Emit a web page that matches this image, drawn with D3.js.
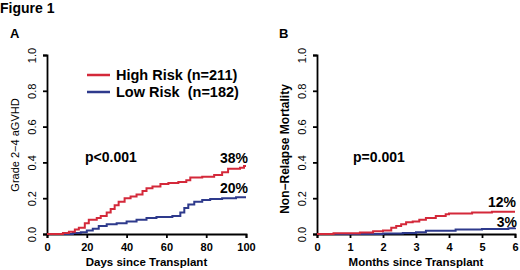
<!DOCTYPE html>
<html>
<head>
<meta charset="utf-8">
<script src="https://cdn.jsdelivr.net/npm/d3@7"></script>
<style>
  body { margin: 0; background: #fff; }
  svg { font-family: "Liberation Sans", Arial, sans-serif; }
</style>
</head>
<body>
<div id="container"></div>
<script>
/* DATA */
const aHighDays = [0, 8, 11, 14, 16, 19, 21, 25, 27, 30, 32, 34, 36, 39, 42, 45, 48, 50, 53, 57, 61, 66, 70, 72, 78, 84, 88, 91, 97, 99, 100]
const aHighVals = [0, 0.005, 0.012, 0.025, 0.035, 0.06, 0.08, 0.09, 0.1, 0.12, 0.14, 0.16, 0.18, 0.2, 0.21, 0.22, 0.24, 0.255, 0.265, 0.28, 0.285, 0.29, 0.3, 0.315, 0.32, 0.33, 0.345, 0.365, 0.37, 0.38, 0.38]
const aLowDays = [0, 13, 17, 20, 23, 26, 30, 35, 40, 45, 50, 55, 63, 67, 69, 71, 74, 78, 82, 88, 95, 100]
const aLowVals = [0, 0.005, 0.01, 0.02, 0.03, 0.045, 0.055, 0.06, 0.07, 0.08, 0.09, 0.095, 0.1, 0.12, 0.145, 0.165, 0.18, 0.19, 0.195, 0.2, 0.205, 0.205]

const bHighMonths = [0, 0.5, 1.3, 1.7, 2.0, 2.25, 2.4, 2.55, 2.7, 2.9, 3.1, 3.3, 3.6, 3.9, 4.0, 4.7, 5.3, 6]
const bHighVals = [0, 0.004, 0.008, 0.015, 0.02, 0.035, 0.045, 0.055, 0.065, 0.07, 0.08, 0.09, 0.1, 0.11, 0.115, 0.12, 0.125, 0.125]
const bLowMonths = [0, 2.0, 2.6, 3.0, 3.3, 4.2, 5.0, 5.8, 6]
const bLowVals = [0, 0.003, 0.006, 0.01, 0.018, 0.025, 0.028, 0.032, 0.035]

const yTicks = [0, 0.2, 0.4, 0.6, 0.8, 1.0]
const aXTicks = [0, 20, 40, 60, 80, 100]
const bXTicks = [0, 1, 2, 3, 4, 5, 6]
const legendLabels = ["High Risk (n=211)", "Low Risk  (n=182)"]

const RED = "#d4293a", BLUE = "#2e3a8c"

const width = 520, height = 270

const svg = d3.select("#container").append("svg")
  .attr("width", width).attr("height", height)

svg.append("text").text("Figure 1")
  .attr("x", 0).attr("y", 13)
  .style("font-weight", "bold").style("font-size", "14px")

// draws one panel
function panel(opts) {
  const x = d3.scaleLinear().domain(opts.xDomain).range([opts.left, opts.right])
  const y = d3.scaleLinear().domain([0, 1]).range([234, 55])

  const xAxis = svg.append("g")
    .attr("transform", `translate(0, ${y(0)})`)
    .call(d3.axisBottom(x).tickValues(opts.xTicks).tickSize(4).tickFormat(d3.format("d")))
  xAxis.selectAll("text").style("font-size", "11px").style("font-weight", "bold").attr("dy", "0.9em")

  const yAxis = svg.append("g")
    .attr("transform", `translate(${x(opts.xDomain[0])}, 0)`)
    .call(d3.axisLeft(y).tickValues(yTicks).tickSize(4).tickFormat(d3.format(".1f")))
  // rotated tick labels, like the original
  yAxis.selectAll("text")
    .attr("transform", "translate(-11, 0) rotate(-90)")
    .attr("x", 0).attr("y", 0).attr("dy", "0").attr("text-anchor", "middle")
    .style("font-size", "11px")

  svg.selectAll(".domain, .tick line").attr("stroke", "#000").attr("stroke-width", 1.8)

  svg.append("text").text(opts.xTitle)
    .attr("x", (opts.left + opts.right) / 2).attr("y", 266)
    .attr("text-anchor", "middle")
    .style("font-size", "11.5px").style("font-weight", "bold")

  svg.append("text").text(opts.yTitle)
    .attr("transform", `translate(${opts.yTitleX}, ${opts.yTitleY}) rotate(-90)`)
    .attr("text-anchor", "middle")
    .style("font-size", opts.yBold ? "12px" : "11px").style("font-weight", opts.yBold ? "bold" : "normal")

  svg.append("text").text(opts.letter)
    .attr("x", opts.letterX).attr("y", 38)
    .style("font-weight", "bold").style("font-size", "13px")

  const line = d3.line().curve(d3.curveStepAfter)
    .x(d => x(d[0])).y(d => y(d[1]))

  opts.series.forEach(s => {
    svg.append("path")
      .datum(d3.zip(s.xs, s.ys))
      .attr("fill", "none")
      .attr("stroke", s.color)
      .attr("stroke-width", 2)
      .attr("d", line)
  })
}

panel({
  xDomain: [0, 100], left: 47, right: 246, xTicks: aXTicks,
  xTitle: "Days since Transplant", yTitle: "Grade 2\u22124 aGVHD",
  yTitleX: 19, yTitleY: 145, letter: "A", letterX: 10,
  series: [
    { xs: aLowDays, ys: aLowVals, color: BLUE },
    { xs: aHighDays, ys: aHighVals, color: RED }
  ]
})

panel({
  xDomain: [0, 6], left: 317, right: 515, xTicks: bXTicks,
  xTitle: "Months since Transplant", yTitle: "Non\u2212Relapse Mortality",
  yTitleX: 289, yTitleY: 149, letter: "B", letterX: 279, yBold: true,
  series: [
    { xs: bLowMonths, ys: bLowVals, color: BLUE },
    { xs: bHighMonths, ys: bHighVals, color: RED }
  ]
})

// legend
const legendColors = [RED, BLUE]
legendLabels.forEach((lab, i) => {
  const ly = 75 + i * 17
  svg.append("line").attr("x1", 87).attr("x2", 110).attr("y1", ly).attr("y2", ly)
    .attr("stroke", legendColors[i]).attr("stroke-width", 2.5)
  svg.append("text").text(lab).attr("x", 116).attr("y", ly + 5)
    .style("font-size", "14.5px").style("font-weight", "bold").style("white-space", "pre")
})

// annotations
const notes = [
  { t: "p<0.001", x: 85, y: 162, a: "start" },
  { t: "38%", x: 248, y: 163, a: "end" },
  { t: "20%", x: 248, y: 193, a: "end" },
  { t: "p=0.001", x: 353, y: 162, a: "start" },
  { t: "12%", x: 516, y: 207, a: "end" },
  { t: "3%", x: 517, y: 227, a: "end" }
]
notes.forEach(n => {
  svg.append("text").text(n.t).attr("x", n.x).attr("y", n.y)
    .attr("text-anchor", n.a)
    .style("font-size", "14px").style("font-weight", "bold")
})
</script>
</body>
</html>
